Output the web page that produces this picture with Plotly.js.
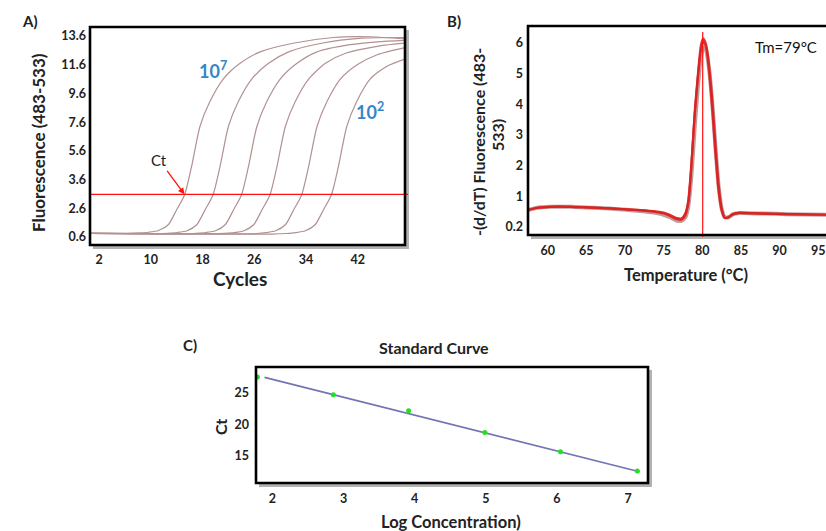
<!DOCTYPE html>
<html><head><meta charset="utf-8">
<script src="https://cdn.plot.ly/plotly-3.0.1.min.js"></script>
<style>html,body{margin:0;padding:0;background:#fff}#chart{width:826px;height:531px}</style>
</head><body><div id="chart"></div><script>
const W=826,H=531;
// ---------- Panel A : amplification curves ----------
const aYTickVals=[0.6,2.6,4.6,6.6,8.6,10.6,12.6,14.6];
const aYTickText=['0.6','2.6','3.6','5.6','7.6','9.6','11.6','13.6'];
const aXTicks=[2,10,18,26,34,42];
const threshold=3.57;
const curve1X=[0.6,3.0,6.2,8.2,9.7,11.2,12.7,14.0,15.2,16.3,17.6,19.1,21.2,23.8,26.9,32,38.2,44,49.3];
const curve1Y=[0.85,0.86,0.85,0.88,0.93,1.05,1.45,2.5,3.5,5.5,8.3,10.0,11.6,12.7,13.5,14.1,14.5,14.55,14.4];
const curve2X=[0.6,5,10.6,12.6,14.1,15.6,17.1,18.4,19.6,20.7,22.0,23.5,25.6,28.2,31.3,36.4,42.6,49.3];
const curve2Y=[0.85,0.84,0.83,0.86,0.91,1.03,1.45,2.5,3.5,5.5,8.3,10.0,11.6,12.7,13.5,14.1,14.45,14.5];
const curve3X=[0.6,7,15.0,17.0,18.5,20.0,21.5,22.8,24.0,25.1,26.4,27.9,30.0,32.6,35.7,40.8,45,49.3];
const curve3Y=[0.85,0.83,0.82,0.86,0.91,1.03,1.45,2.5,3.5,5.5,8.3,10.0,11.6,12.7,13.5,14.0,14.2,14.3];
const curve4X=[0.6,9,19.4,21.4,22.9,24.4,25.9,27.2,28.4,29.5,30.8,32.3,34.4,37.0,40.1,45.2,49.3];
const curve4Y=[0.85,0.82,0.82,0.85,0.9,1.03,1.45,2.5,3.5,5.5,8.3,10.0,11.6,12.7,13.4,13.9,14.1];
const curve5X=[0.6,12,24.3,26.3,27.8,29.3,30.8,32.1,33.3,34.4,35.7,37.2,39.3,41.9,45.0,49.3];
const curve5Y=[0.85,0.82,0.81,0.84,0.9,1.03,1.45,2.5,3.5,5.5,8.3,10.0,11.6,12.6,13.3,13.8];
const curve6X=[0.6,15,28.9,30.9,32.4,33.9,35.4,36.7,37.9,39.0,40.3,41.8,43.9,46.5,49.3];
const curve6Y=[0.85,0.82,0.8,0.84,0.9,1.03,1.45,2.5,3.5,5.5,8.3,10.0,11.6,12.5,13.0];
// ---------- Panel B : melting curves ----------
const bYTickVals=[0,1,2,3,4,5,6];
const bYTickText=['0.2','1','2','3','4','5','6'];
const bXTicks=[60,65,70,75,80,85,90,95];
const tm=80.05;
const meltT=[57.4,58.5,60.3,63,65,68,70.2,72,73.7,75.0,75.8,76.6,77.3,77.8,78.2,78.6,79.0,79.4,79.8,80.1,80.5,80.9,81.3,81.7,82.1,82.5,82.9,83.4,84.0,84.8,86,88,91,96];
const melt1=[0.55,0.62,0.66,0.66,0.64,0.61,0.58,0.55,0.52,0.47,0.40,0.30,0.28,0.45,0.87,2.1,3.6,4.8,5.75,6.05,5.85,5.0,3.8,2.4,1.2,0.55,0.3,0.32,0.42,0.46,0.45,0.44,0.42,0.40];
const melt2=[0.55,0.62,0.66,0.66,0.64,0.60,0.56,0.52,0.47,0.40,0.32,0.22,0.20,0.32,0.70,1.7,3.2,4.5,5.5,5.85,5.75,5.1,4.0,2.6,1.35,0.6,0.32,0.32,0.42,0.46,0.45,0.44,0.42,0.40];
const melt3=[0.55,0.62,0.66,0.66,0.64,0.61,0.57,0.54,0.50,0.44,0.36,0.26,0.24,0.38,0.80,2.0,3.7,4.9,5.9,6.15,5.95,5.2,4.1,2.7,1.4,0.62,0.3,0.32,0.42,0.46,0.45,0.44,0.42,0.40];
// ---------- Panel C : standard curve ----------
const logConc=[1.79,2.857,3.915,4.987,6.05,7.13];
const ctValues=[27.55,24.73,22.18,18.72,15.69,12.61];
const fitX=[1.89,7.16];
const fitY=[27.5,12.5];
const cXTicks=[2,3,4,5,6,7];
const cYTicks=[15,20,25];

const FONT='Lato, "Open Sans", sans-serif';
const tickFont={family:FONT,size:12.5,color:'#222',weight:'bold'};
const curveColor='rgb(178,145,145)';

const traces=[];
[[curve1X,curve1Y],[curve2X,curve2Y],[curve3X,curve3Y],[curve4X,curve4Y],[curve5X,curve5Y],[curve6X,curve6Y]].forEach(c=>{
  traces.push({x:c[0],y:c[1],xaxis:'x',yaxis:'y',mode:'lines',line:{color:curveColor,width:1.2,shape:'spline',smoothing:0.7},hoverinfo:'skip'});
});
traces.push({x:meltT,y:melt2,xaxis:'x2',yaxis:'y2',mode:'lines',line:{color:'rgba(175,120,120,0.75)',width:4,shape:'spline',smoothing:0.6}});
traces.push({x:meltT,y:melt1,xaxis:'x2',yaxis:'y2',mode:'lines',line:{color:'rgba(230,25,25,0.9)',width:2.2,shape:'spline',smoothing:0.6}});
traces.push({x:meltT,y:melt3,xaxis:'x2',yaxis:'y2',mode:'lines',line:{color:'rgba(215,35,35,0.9)',width:2.2,shape:'spline',smoothing:0.6}});
traces.push({x:fitX,y:fitY,xaxis:'x3',yaxis:'y3',mode:'lines',line:{color:'#7474b4',width:1.6}});
traces.push({x:logConc,y:ctValues,xaxis:'x3',yaxis:'y3',mode:'markers',marker:{color:'#22e022',size:5}});

const px=v=>v/W, py=v=>1-v/H;
const A={l:90,t:27,r:405,b:245}, B={l:528,t:26,r:870,b:235}, C={l:256,t:367,r:648,b:483};
const shapes=[];
[A,B,C].forEach(p=>{
  shapes.push({type:'rect',xref:'paper',yref:'paper',x0:px(p.l+3),x1:px(p.r+4),y0:py(p.b+4),y1:py(p.t+3),fillcolor:'rgba(0,0,0,0.3)',line:{width:0},layer:'below'});
  shapes.push({type:'rect',xref:'paper',yref:'paper',x0:px(p.l),x1:px(p.r),y0:py(p.b),y1:py(p.t),fillcolor:'#fff',line:{width:0},layer:'below'});
});
shapes.push({type:'line',xref:'paper',yref:'y',x0:px(90),x1:px(408),y0:threshold,y1:threshold,line:{color:'#ff1010',width:1.4},layer:'above'});
shapes.push({type:'line',xref:'x2',yref:'paper',x0:tm,x1:tm,y0:py(237),y1:py(32),line:{color:'#ff1010',width:1.2},layer:'above'});
[A,B,C].forEach(p=>{
  shapes.push({type:'rect',xref:'paper',yref:'paper',x0:px(p.l),x1:px(p.r),y0:py(p.b),y1:py(p.t),line:{color:'#000',width:2.6},layer:'above'});
});

function ann(text,x,y,size,opts){return Object.assign({text:text,xref:'paper',yref:'paper',x:px(x),y:py(y),xanchor:'center',yanchor:'middle',showarrow:false,font:{family:FONT,size:size,color:'#222',weight:'bold'}},opts||{});}
const blue={family:FONT,size:18,color:'#3586c8',weight:'bold'};
const annotations=[
  ann('A)',30,21,15),ann('B)',454,21,15),ann('C)',190,345,15),
  ann('Fluorescence (483-533)',39,143,17,{textangle:-90}),
  ann('Cycles',240,278,19),
  ann('10<sup>7</sup>',213,70,18,{font:blue}),
  ann('10<sup>2</sup>',370,111,18,{font:blue}),
  {text:'Ct',xref:'x',yref:'y',x:15.2,y:threshold,ax:-25,ay:-34,showarrow:true,arrowhead:2,arrowsize:1,arrowwidth:1.3,arrowcolor:'#ff1010',font:{family:FONT,size:15,color:'#222'}},
  ann('-(d/dT) Fluorescence (483-',478,142,16,{textangle:-90}),
  ann('533)',497,135,16,{textangle:-90}),
  ann('Tm=79°C',786,47,15,{font:{family:FONT,size:15,color:'#111'}}),
  ann('Temperature (°C)',686,275,16.5),
  ann('Standard Curve',434,347,16),
  ann('Ct',220,427,16,{textangle:-90}),
  ann('Log Concentration)',451,522,16.5)
];

const baseAxis={showgrid:false,zeroline:false,showline:false,ticks:'',tickfont:tickFont,fixedrange:true};
const layout={
  width:W,height:H,margin:{l:0,r:0,t:0,b:0},paper_bgcolor:'#fff',plot_bgcolor:'rgba(0,0,0,0)',showlegend:false,
  xaxis:Object.assign({},baseAxis,{domain:[px(A.l),px(A.r)],range:[0.6,49.3],tickvals:aXTicks,ticklabelstandoff:5,anchor:'y'}),
  yaxis:Object.assign({},baseAxis,{domain:[py(A.b),py(A.t)],range:[0.04,15.23],tickvals:aYTickVals,ticktext:aYTickText,ticklabelstandoff:3,anchor:'x'}),
  xaxis2:Object.assign({},baseAxis,{domain:[px(B.l),1],range:[57.45,96.0],tickvals:bXTicks,ticklabelstandoff:6,anchor:'y2'}),
  yaxis2:Object.assign({},baseAxis,{domain:[py(B.b),py(B.t)],range:[-0.26,6.554],tickvals:bYTickVals,ticktext:bYTickText,ticklabelstandoff:4,anchor:'x2'}),
  xaxis3:Object.assign({},baseAxis,{domain:[px(C.l),px(C.r)],range:[1.77,7.28],tickvals:cXTicks,ticklabelstandoff:6,anchor:'y3'}),
  yaxis3:Object.assign({},baseAxis,{domain:[py(C.b),py(C.t)],range:[10.7,29.15],tickvals:cYTicks,ticklabelstandoff:6,anchor:'x3'}),
  shapes:shapes,annotations:annotations
};
Plotly.newPlot('chart',traces,layout,{staticPlot:true,displayModeBar:false});
</script></body></html>
